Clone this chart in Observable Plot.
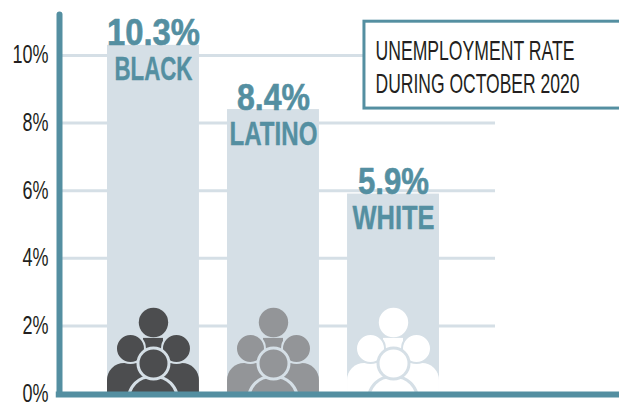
<!DOCTYPE html>
<html>
<head>
<meta charset="utf-8">
<script src="https://cdn.jsdelivr.net/npm/d3@7"></script>
<script src="https://cdn.jsdelivr.net/npm/@observablehq/plot@0.6"></script>
<style>
  html, body { margin: 0; padding: 0; background: #fff; }
  svg { display: block; }
</style>
</head>
<body>
<div id="chart"></div>
<script>
// Unemployment rate by group, October 2020
const groups = ["BLACK", "LATINO", "WHITE"];
const rates = [10.3, 8.4, 5.9];
const iconColors = ["#4c4d4f", "#939598", "#ffffff"];
const tickValues = [0, 2, 4, 6, 8, 10];
const titleLines = ["UNEMPLOYMENT RATE", "DURING OCTOBER 2020"];

const rows = groups.map((group, i) => ({group, rate: rates[i], pos: i, color: iconColors[i]}));

const teal = "#548fa1";
const pale = "#d5dfe6";
const ink = "#231f20";
const face = "'Liberation Sans', Arial, sans-serif";

const halfBar = 0.383;
const xLeft = -0.783;

// Rounded bodies run below the baseline and get clipped by the frame
const body = (half, top, extra = {}) =>
  Plot.rect(rows, {
    x1: d => d.pos - half,
    x2: d => d.pos + half,
    y1: -2,
    y2: top,
    fill: "color",
    clip: "frame",
    ...extra
  });

const chart = Plot.plot({
  width: 619,
  height: 402,
  marginLeft: 59,
  marginRight: 0,
  marginTop: 0,
  marginBottom: 9,
  x: {type: "linear", domain: [xLeft, 3.883], axis: null},
  y: {domain: [0, 11.627]},
  style: {fontFamily: face, background: "#fff", overflow: "visible"},
  marks: [
    // gridlines
    Plot.ruleY(tickValues.filter(d => d > 0), {x1: xLeft, x2: 2.85, stroke: pale, strokeWidth: 3}),
    // bars
    Plot.rectY(rows, {x1: d => d.pos - halfBar, x2: d => d.pos + halfBar, y1: 0, y2: "rate", fill: pale}),
    // people icon: back row
    body(0.0833, 1.63),
    Plot.dot(rows, {x: "pos", y: 0, r: 14.7, dy: -71, fill: "color"}),
    body(halfBar, 0.89, {rx: 17}),
    Plot.dot(rows, {x: "pos", y: 0, r: 14.5, dx: -23, dy: -45, fill: "color", stroke: pale, strokeWidth: 2}),
    Plot.dot(rows, {x: "pos", y: 0, r: 14.5, dx: 23, dy: -45, fill: "color", stroke: pale, strokeWidth: 2}),
    // people icon: front figure
    body(0.204, 0.49, {stroke: pale, strokeWidth: 3, rx: 23}),
    Plot.dot(rows, {x: "pos", y: 0, r: 15.5, dy: -30, fill: "color", stroke: pale, strokeWidth: 3}),
    // title box, open at the right edge
    Plot.rect([0], {x1: 1.758, x2: 4.2, y1: 8.43, y2: 11.0, fill: "#fff", stroke: teal, strokeWidth: 3}),
    Plot.text(titleLines.slice(0, 1), {
      x: 1.85, y: 9.88, text: d => d, textAnchor: "start", lineAnchor: "bottom", fontSize: 28, fill: ink
    }),
    Plot.text(titleLines.slice(1), {
      x: 1.85, y: 8.876, text: d => d, textAnchor: "start", lineAnchor: "bottom", fontSize: 28, fill: ink
    }),
    // value and group labels
    Plot.text(rows, {
      x: "pos", y: "rate", text: d => `${d.rate}%`, lineAnchor: "bottom",
      fontSize: 37, fontWeight: 700, fill: teal, stroke: teal, strokeWidth: 0.6
    }),
    Plot.text(rows, {
      x: "pos", y: "rate", text: "group", dy: 35, lineAnchor: "bottom",
      fontSize: 34, fontWeight: 700, fill: teal, stroke: teal, strokeWidth: 0.4
    }),
    // axes
    Plot.ruleX([xLeft], {y1: 0, y2: 11.2, stroke: teal, strokeWidth: 6, strokeLinecap: "round"}),
    Plot.ruleY([0], {x1: -0.81, x2: 3.883, dy: 1, stroke: teal, strokeWidth: 6}),
    Plot.axisY({
      anchor: "left", ticks: tickValues, tickSize: 0, tickPadding: 11, label: null,
      tickFormat: d => `${d}%`, fontSize: 25, fill: ink
    })
  ]
});
document.getElementById("chart").appendChild(chart);

// The type is set condensed: scale each string horizontally to its set length
const setWidths = {
  "UNEMPLOYMENT RATE": 199, "DURING OCTOBER 2020": 204,
  "10.3%": 93, "8.4%": 73, "5.9%": 71,
  "BLACK": 78, "LATINO": 88, "WHITE": 82,
  "0%": 26, "2%": 26, "4%": 26, "6%": 26, "8%": 26, "10%": 36
};
chart.querySelectorAll("text").forEach(t => {
  const w = setWidths[t.textContent.trim()];
  if (w) {
    const sx = w / t.getComputedTextLength();
    t.setAttribute("transform", `${t.getAttribute("transform") || ""} scale(${sx},1)`);
  }
});
</script>
</body>
</html>
